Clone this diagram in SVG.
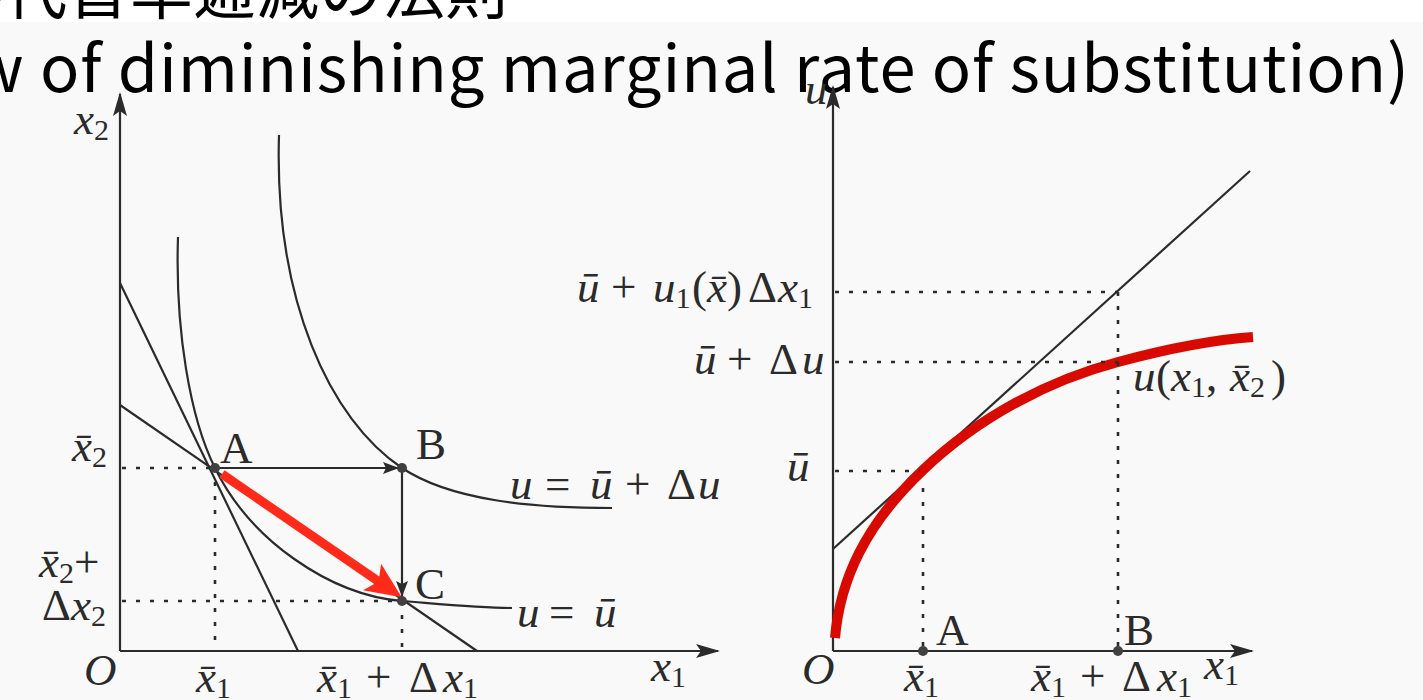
<svg xmlns="http://www.w3.org/2000/svg" width="1423" height="700" viewBox="0 0 1423 700">
<style>
.ln{fill:none;stroke:#2b2b2b;stroke-width:2.2}
.dot{fill:none;stroke:#2b2b2b;stroke-width:2.6;stroke-dasharray:4 10}
.pt{fill:#404040}
.t{font-family:"Liberation Serif",serif;font-size:45px;fill:#2b2b2b}
.mi{font-style:italic}
.sub{font-size:30px;font-style:normal}
.title{font-family:"Noto Sans CJK JP","Noto Sans",sans-serif;fill:#000}
</style>
<defs>
<marker id="axis" markerUnits="userSpaceOnUse" markerWidth="24" markerHeight="14" viewBox="0 0 24 14" refX="22" refY="7" orient="auto"><path d="M0,0 L24,7 L0,14 L5,7 Z" fill="#2b2b2b"/></marker>
<marker id="arr" markerUnits="userSpaceOnUse" markerWidth="16" markerHeight="12" viewBox="0 0 16 12" refX="15" refY="6" orient="auto"><path d="M0,0 L16,6 L0,12 L3,6 Z" fill="#2b2b2b"/></marker>
<marker id="red" markerUnits="userSpaceOnUse" markerWidth="36" markerHeight="32" viewBox="0 0 36 32" refX="23" refY="16" orient="auto"><path d="M0,0 L36,16 L0,32 L8,16 Z" fill="#ff2a1a"/></marker>
</defs>
<rect x="0" y="0" width="1423" height="700" fill="#ffffff"/>
<rect x="0" y="22" width="1423" height="678" fill="#f9f9f9"/>
<g id="title">
<text class="title" x="508" y="13" font-size="63" text-anchor="end">限界代替率逓減の法則</text>
<text class="title" x="1410" y="92" font-size="65" letter-spacing="0.9" text-anchor="end">(Law of diminishing marginal rate of substitution)</text>
</g>
<g id="left-axes">
<line class="ln" x1="120" y1="651" x2="120" y2="94" marker-end="url(#axis)"/>
<line class="ln" x1="120" y1="651" x2="718" y2="651" marker-end="url(#axis)"/>
</g>
<g id="left-curves">
<path class="ln" d="M178,237 C175,330 190,418 215,468 C250,540 330,595 402,601 C440,604 480,608 512,608"/>
<path class="ln" d="M279,135 C274,300 330,420 402,468 C450,500 530,508 612,508"/>
<line class="ln" x1="120" y1="283" x2="298" y2="651"/>
<line class="ln" x1="120" y1="405" x2="477" y2="651"/>
</g>
<g id="left-guides">
<line class="dot" x1="122" y1="468" x2="215" y2="468"/>
<line class="dot" x1="215" y1="468" x2="215" y2="650"/>
<line class="dot" x1="122" y1="601" x2="402" y2="601"/>
<line class="dot" x1="402" y1="601" x2="402" y2="650"/>
</g>
<g id="connectors">
<line class="ln" x1="215" y1="468" x2="398" y2="468" marker-end="url(#arr)"/>
<line class="ln" x1="402" y1="468" x2="402" y2="596" marker-end="url(#arr)"/>
<line x1="222" y1="474" x2="391" y2="590" stroke="#ff2a1a" stroke-width="9" marker-end="url(#red)"/>
</g>
<g id="node-A"><circle class="pt" cx="215" cy="468" r="5"/><text class="t" x="220" y="463">A</text></g>
<g id="node-B"><circle class="pt" cx="402" cy="468" r="5"/><text class="t" x="416" y="459">B</text></g>
<g id="node-C"><circle class="pt" cx="402" cy="601" r="5"/><text class="t" x="415" y="599">C</text></g>
<g id="left-labels">
<text class="t mi" x="74" y="134">x<tspan class="sub" dy="6">2</tspan></text>
<text class="t mi" x="72" y="461">x̄<tspan class="sub" dy="6">2</tspan></text>
<text class="t" x="39" y="577"><tspan class="mi">x̄</tspan><tspan class="sub" dy="6">2</tspan><tspan dy="-6">+</tspan></text>
<text class="t" x="42" y="620">Δ<tspan class="mi">x</tspan><tspan class="sub" dy="6">2</tspan></text>
<text class="t mi" x="84" y="685" font-size="46">O</text>
<text class="t mi" x="196" y="692">x̄<tspan class="sub" dy="6">1</tspan></text>
<text class="t" y="692"><tspan class="mi" x="317">x̄</tspan><tspan class="sub" dy="6">1</tspan><tspan x="366" dy="-6">+</tspan><tspan x="409">Δ</tspan><tspan class="mi" x="443">x</tspan><tspan class="sub" dy="6">1</tspan></text>
<text class="t mi" x="651" y="681">x<tspan class="sub" dy="6">1</tspan></text>
<text class="t" y="499"><tspan class="mi" x="510">u</tspan><tspan x="545">=</tspan><tspan class="mi" x="590">ū</tspan><tspan x="625">+</tspan><tspan x="667">Δ</tspan><tspan class="mi" x="698">u</tspan></text>
<text class="t" y="627"><tspan class="mi" x="517">u</tspan><tspan x="549">=</tspan><tspan class="mi" x="594">ū</tspan></text>
</g>
<g id="right-axes">
<line class="ln" x1="833" y1="651" x2="833" y2="87" marker-end="url(#axis)"/>
<line class="ln" x1="833" y1="651" x2="1252" y2="651" marker-end="url(#axis)"/>
</g>
<g id="right-curves">
<line class="ln" x1="833" y1="549" x2="1250" y2="171"/>
<path d="M835,638 C840,580 865,525 923,470 C980,416 1050,380 1118,362 C1170,348 1210,340 1253,337" fill="none" stroke="#d80a00" stroke-width="10"/>
</g>
<g id="right-guides">
<line class="dot" x1="835" y1="292" x2="1118" y2="292"/>
<line class="dot" x1="835" y1="362" x2="1118" y2="362"/>
<line class="dot" x1="835" y1="471" x2="920" y2="471"/>
<line class="dot" x1="923" y1="488" x2="923" y2="650"/>
<line class="dot" x1="1118" y1="292" x2="1118" y2="650"/>
</g>
<g id="node-A2"><circle class="pt" cx="923" cy="651" r="5"/><text class="t" x="936" y="645">A</text></g>
<g id="node-B2"><circle class="pt" cx="1118" cy="651" r="5"/><text class="t" x="1124" y="645">B</text></g>
<g id="right-labels">
<text class="t mi" x="805" y="104">u</text>
<text class="t" y="302"><tspan class="mi" x="577">ū</tspan><tspan x="611">+</tspan><tspan class="mi" x="653">u</tspan><tspan class="sub" dy="6">1</tspan><tspan x="692" dy="-6">(</tspan><tspan class="mi">x̄</tspan><tspan>)</tspan><tspan x="748">Δ</tspan><tspan class="mi" x="778">x</tspan><tspan class="sub" dy="6">1</tspan></text>
<text class="t" y="374"><tspan class="mi" x="694">ū</tspan><tspan x="727">+</tspan><tspan x="769">Δ</tspan><tspan class="mi" x="802">u</tspan></text>
<text class="t mi" x="787" y="481">ū</text>
<text class="t" y="391"><tspan class="mi" x="1133">u</tspan><tspan x="1156">(</tspan><tspan class="mi" x="1171">x</tspan><tspan class="sub" dy="6">1</tspan><tspan dy="-6">,</tspan><tspan class="mi" x="1230">x̄</tspan><tspan class="sub" dy="6">2</tspan><tspan x="1271" dy="-6">)</tspan></text>
<text class="t mi" x="802" y="684" font-size="46">O</text>
<text class="t mi" x="904" y="691">x̄<tspan class="sub" dy="6">1</tspan></text>
<text class="t" y="691"><tspan class="mi" x="1031">x̄</tspan><tspan class="sub" dy="6">1</tspan><tspan x="1080" dy="-6">+</tspan><tspan x="1122">Δ</tspan><tspan class="mi" x="1157">x</tspan><tspan class="sub" dy="6">1</tspan></text>
<text class="t mi" x="1204" y="679">x<tspan class="sub" dy="6">1</tspan></text>
</g>
</svg>
